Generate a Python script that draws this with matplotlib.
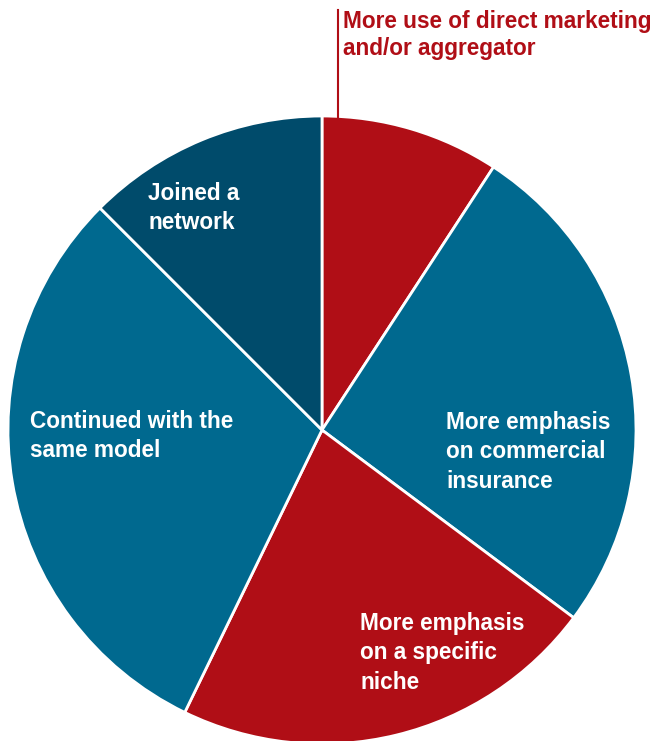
import matplotlib
matplotlib.use("Agg")
import matplotlib.pyplot as plt

# Share of respondents by change in business model (clockwise from top)
categories = [
    "More use of direct marketing\nand/or aggregator",
    "More emphasis\non commercial\ninsurance",
    "More emphasis\non a specific\nniche",
    "Continued with the\nsame model",
    "Joined a\nnetwork",
]
values = [9.2, 26.0, 22.0, 30.3, 12.5]
colors = ["#B00E16", "#00698F", "#B00E16", "#00698F", "#004B6B"]

W, H = 655, 741
fig = plt.figure(figsize=(W / 100, H / 100), dpi=100)
ax = fig.add_axes([0, 0, 1, 1])
ax.set_xlim(0, W)
ax.set_ylim(0, H)
ax.set_aspect("equal")
ax.axis("off")

cx, cy, r = 322, H - 430, 314
ax.pie(values, colors=colors, startangle=90, counterclock=False,
       center=(cx, cy), radius=r,
       wedgeprops=dict(edgecolor="white", linewidth=2))
ax.set_xlim(0, W)
ax.set_ylim(0, H)

font = dict(family=["Liberation Sans", "DejaVu Sans"], fontweight="bold",
            fontsize=16.3, va="top", ha="left")

# callout for the small top slice
ax.plot([338, 338], [cy + r - 2, H - 10], color="#B00E16", lw=1.5)
ax.text(343, H - 10, categories[0], color="#B00E16", linespacing=1.25, **font)

# in-slice labels
ax.text(446, H - 411, categories[1], color="white", linespacing=1.35, **font)
ax.text(360, H - 612, categories[2], color="white", linespacing=1.35, **font)
ax.text(30, H - 410, categories[3], color="white", linespacing=1.35, **font)
ax.text(148, H - 182, categories[4], color="white", linespacing=1.35, **font)

fig.savefig("out.png", dpi=100)
